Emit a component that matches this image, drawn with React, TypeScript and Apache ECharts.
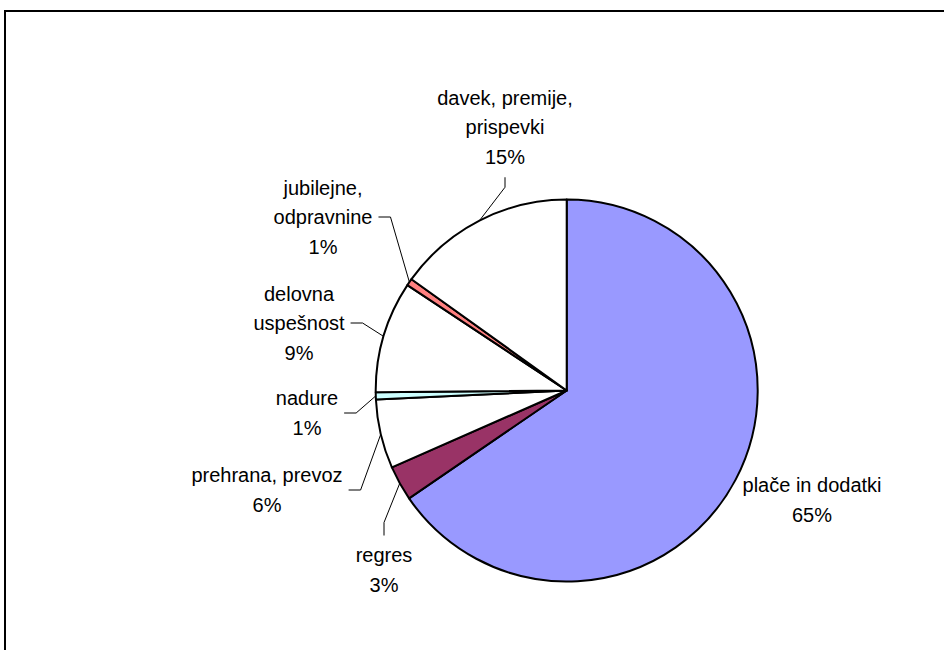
import React, { useEffect, useRef } from "react";
import * as echarts from "echarts";

// ---- data ----
const categories: string[] = [
  "plače in dodatki",
  "regres",
  "prehrana, prevoz",
  "nadure",
  "delovna\nuspešnost",
  "jubilejne,\nodpravnine",
  "davek, premije,\nprispevki",
];
const values: number[] = [65.45, 2.95, 5.85, 0.6, 9.45, 0.6, 15.1];

// ---- styles / layout (kept apart from the data) ----
const sliceColors: string[] = ["#9999FF", "#993366", "#FFFFFF", "#CCFFFF", "#FFFFFF", "#FF8080", "#FFFFFF"];
// label block centre (px) and on which side of the block the leader line leaves
const labelLayoutTable: [number, number, string][] = [
  [812, 500, "none"],
  [384, 570, "bottom"],
  [267, 490, "left"],
  [307, 413, "left"],
  [299, 323, "left"],
  [323, 217, "left"],
  [505, 127, "top"],
];

export default function App() {
  const ref = useRef<HTMLDivElement>(null);
  useEffect(() => {
    if (!ref.current) return;
    const chart = echarts.init(ref.current, undefined, { renderer: "svg" });
    const data = categories.map((name, i) => ({
      name,
      value: values[i],
      itemStyle: { color: sliceColors[i] },
      labelLine: { show: labelLayoutTable[i][2] !== "none" },
    }));
    chart.setOption({
      animation: false,
      backgroundColor: "#ffffff",
      graphic: [
        {
          type: "rect",
          shape: { x: 5, y: 11, width: 980, height: 700 },
          style: { fill: "none", stroke: "#000", lineWidth: 2 },
          silent: true,
        },
      ],
      series: [
        {
          type: "pie",
          center: [566.7, 390.5],
          radius: 191,
          startAngle: 90,
          clockwise: true,
          avoidLabelOverlap: false,
          data,
          itemStyle: { borderColor: "#000", borderWidth: 2 },
          label: {
            show: true,
            position: "outside",
            color: "#000",
            fontFamily: "Liberation Sans, Arial, sans-serif",
            fontSize: 20,
            lineHeight: 29.5,
            align: "center",
            formatter: (p: any) => `${p.name}\n${Math.round(p.percent)}%`,
          },
          labelLine: {
            show: true,
            length: 12,
            length2: 10,
            lineStyle: { color: "#000", width: 1 },
          },
          emphasis: { disabled: true },
          labelLayout: (params: any) => {
            const i = params.dataIndex;
            const [cx, cy, side] = labelLayoutTable[i];
            const w = params.labelRect.width;
            const h = params.labelRect.height;
            const left = cx - w / 2;
            const right = cx + w / 2;
            const top = cy - h / 2;
            const bottom = cy + h / 2;
            const res: any = { x: cx, y: cy, align: "center", verticalAlign: "middle" };
            const pts = params.labelLinePoints;
            if (pts && side !== "none") {
              const edge = pts[0];
              if (side === "left") {
                res.labelLinePoints = [edge, [right + 18, cy], [right + 6, cy]];
              } else if (side === "right") {
                res.labelLinePoints = [edge, [left - 18, cy], [left - 6, cy]];
              } else if (side === "top") {
                res.labelLinePoints = [edge, [cx, bottom + 16], [cx, bottom + 6]];
              } else if (side === "bottom") {
                res.labelLinePoints = [edge, [cx, top - 18], [cx, top - 5]];
              }
            }
            return res;
          },
        },
      ],
    });
    return () => chart.dispose();
  }, []);
  return (
    <div
      ref={ref}
      style={{ position: "fixed", left: 0, top: 0, width: 944, height: 650, background: "#fff" }}
    />
  );
}
